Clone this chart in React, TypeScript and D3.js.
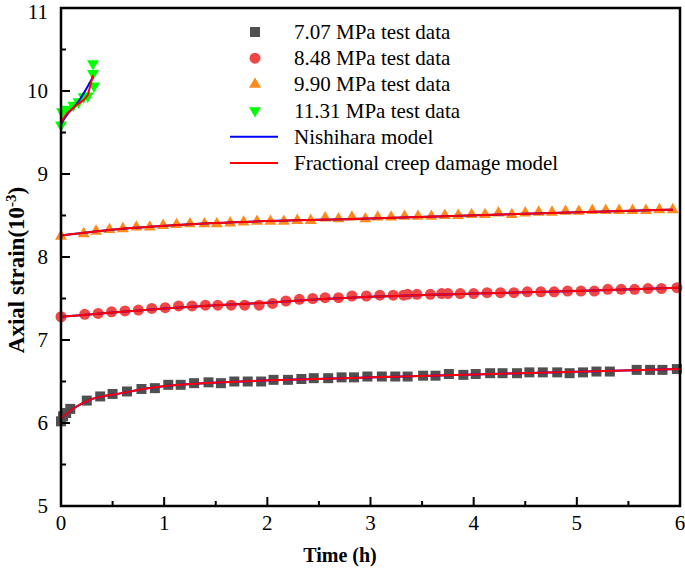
import React from "react";
import * as d3 from "d3";

// test data (time in h, axial strain in 10^-3)
const t707 = [0, 0.02, 0.05, 0.09, 0.25, 0.38, 0.5, 0.64, 0.78, 0.91, 1.04, 1.16, 1.29, 1.43, 1.55, 1.68, 1.81, 1.94, 2.06, 2.2, 2.33, 2.45, 2.59, 2.72, 2.84, 2.97, 3.11, 3.24, 3.36, 3.51, 3.63, 3.76, 3.9, 4.02, 4.16, 4.28, 4.42, 4.54, 4.67, 4.81, 4.93, 5.06, 5.19, 5.32, 5.58, 5.71, 5.83, 5.97];
const v707 = [6.02, 6.08, 6.12, 6.17, 6.27, 6.32, 6.35, 6.38, 6.41, 6.42, 6.46, 6.46, 6.48, 6.49, 6.48, 6.5, 6.5, 6.5, 6.52, 6.52, 6.53, 6.54, 6.54, 6.55, 6.55, 6.56, 6.56, 6.56, 6.56, 6.57, 6.57, 6.59, 6.58, 6.59, 6.6, 6.6, 6.6, 6.61, 6.61, 6.61, 6.6, 6.61, 6.62, 6.62, 6.64, 6.64, 6.64, 6.65];

const t848 = [0, 0.23, 0.36, 0.49, 0.62, 0.75, 0.88, 1.01, 1.14, 1.27, 1.4, 1.52, 1.65, 1.78, 1.92, 2.05, 2.18, 2.31, 2.44, 2.56, 2.69, 2.82, 2.96, 3.09, 3.22, 3.32, 3.36, 3.45, 3.58, 3.69, 3.75, 3.87, 4.0, 4.13, 4.26, 4.39, 4.52, 4.65, 4.78, 4.91, 5.04, 5.17, 5.3, 5.43, 5.56, 5.69, 5.82, 5.97];
const v848 = [7.28, 7.31, 7.32, 7.34, 7.35, 7.36, 7.38, 7.39, 7.41, 7.41, 7.42, 7.42, 7.42, 7.42, 7.42, 7.44, 7.47, 7.49, 7.5, 7.51, 7.51, 7.53, 7.53, 7.54, 7.54, 7.54, 7.55, 7.55, 7.55, 7.56, 7.56, 7.56, 7.56, 7.57, 7.57, 7.57, 7.58, 7.58, 7.58, 7.59, 7.59, 7.59, 7.61, 7.61, 7.61, 7.62, 7.62, 7.63];

const t990 = [0, 0.22, 0.34, 0.47, 0.6, 0.73, 0.86, 0.99, 1.12, 1.25, 1.39, 1.51, 1.64, 1.77, 1.9, 2.03, 2.16, 2.29, 2.42, 2.56, 2.69, 2.82, 2.95, 3.07, 3.2, 3.33, 3.46, 3.59, 3.72, 3.85, 3.98, 4.11, 4.24, 4.37, 4.5, 4.63, 4.76, 4.89, 5.02, 5.15, 5.28, 5.41, 5.54, 5.67, 5.8, 5.93];
const v990 = [8.25, 8.28, 8.31, 8.33, 8.34, 8.36, 8.36, 8.38, 8.39, 8.4, 8.4, 8.4, 8.41, 8.42, 8.43, 8.43, 8.43, 8.44, 8.44, 8.47, 8.46, 8.48, 8.46, 8.48, 8.48, 8.49, 8.49, 8.49, 8.5, 8.5, 8.51, 8.51, 8.53, 8.51, 8.53, 8.54, 8.54, 8.55, 8.55, 8.56, 8.56, 8.56, 8.56, 8.56, 8.57, 8.57];

const t1131 = [0, 0.01, 0.06, 0.12, 0.17, 0.22, 0.26, 0.31, 0.31, 0.32];
const v1131 = [9.59, 9.75, 9.78, 9.83, 9.87, 9.93, 9.94, 10.33, 10.21, 10.06];

// fractional creep damage model (red)
const fitT707 = [0, 0.14, 0.26, 0.59, 0.91, 1.56, 2.2, 3.04, 4.45, 6];
const fitV707 = [6.06, 6.19, 6.27, 6.36, 6.43, 6.49, 6.52, 6.55, 6.6, 6.65];
const fitT848 = [0, 0.5, 1, 1.5, 2, 2.5, 3, 4, 5, 6];
const fitV848 = [7.28, 7.33, 7.38, 7.42, 7.45, 7.49, 7.52, 7.56, 7.59, 7.63];
const fitT990 = [0, 0.6, 1.5, 2.9, 4.5, 5.93];
const fitV990 = [8.26, 8.34, 8.41, 8.46, 8.52, 8.57];
const fitT1131 = [0, 0.05, 0.15, 0.22, 0.26, 0.31];
const fitV1131 = [9.62, 9.72, 9.83, 9.89, 9.95, 10.19];

// Nishihara model (blue), only visible for 11.31 MPa
const nisT1131 = [0, 0.05, 0.15, 0.31];
const nisV1131 = [9.6, 9.7, 9.84, 10.17];

const xTicks = [0, 1, 2, 3, 4, 5, 6];
const yTicks = [5, 6, 7, 8, 9, 10, 11];

const legendLabels = [
  "7.07 MPa test data",
  "8.48 MPa test data",
  "9.90 MPa test data",
  "11.31 MPa test data",
  "Nishihara model",
  "Fractional creep damage model",
];

const W = 685;
const H = 574;
const margin = { top: 8, right: 5, bottom: 68, left: 61 };
const FONT = "'Liberation Serif', 'Times New Roman', serif";

const zip = (ts: number[], vs: number[]) => ts.map((t, i) => [t, vs[i]] as [number, number]);

const GRAY = "#505050";
const RED_DOT = "#f04646";
const ORANGE = "#ff8a1c";
const GREEN = "#00ff00";

export default function App() {
  const x = d3.scaleLinear().domain([0, 6]).range([margin.left, W - margin.right]);
  const y = d3.scaleLinear().domain([5, 11]).range([H - margin.bottom, margin.top]);

  const smooth = d3
    .line<[number, number]>()
    .x((d) => x(d[0]))
    .y((d) => y(d[1]))
    .curve(d3.curveMonotoneX);
  const straight = d3
    .line<[number, number]>()
    .x((d) => x(d[0]))
    .y((d) => y(d[1]));

  const sq = d3.symbol().type(d3.symbolSquare).size(100)() || "";
  const ci = d3.symbol().type(d3.symbolCircle).size(95)() || "";
  const tri = d3.symbol().type(d3.symbolTriangle).size(62)() || "";

  const series = [
    { pts: zip(t707, v707), path: sq, color: GRAY, rot: 0 },
    { pts: zip(t848, v848), path: ci, color: RED_DOT, rot: 0 },
    { pts: zip(t990, v990), path: tri, color: ORANGE, rot: 0 },
    { pts: zip(t1131, v1131), path: tri, color: GREEN, rot: 180 },
  ];

  const fits = [
    smooth(zip(fitT707, fitV707)),
    smooth(zip(fitT848, fitV848)),
    smooth(zip(fitT990, fitV990)),
    straight(zip(fitT1131, fitV1131)),
  ];
  const nish = [
    smooth(zip(fitT707, fitV707)),
    smooth(zip(fitT848, fitV848)),
    smooth(zip(fitT990, fitV990)),
    smooth(zip(nisT1131, nisV1131)),
  ];

  const x0 = margin.left;
  const x1 = W - margin.right;
  const y0 = H - margin.bottom;
  const y1 = margin.top;

  const xMinor = d3.range(0.5, 6, 1);
  const yMinor = d3.range(5.5, 11, 1);

  const legX = 255;
  const legY0 = 32;
  const legStep = 26.2;

  return (
    <>
      <style>{`body{margin:0}`}</style>
      <svg width={W} height={H} style={{ display: "block", background: "#fff" }} fontFamily={FONT}>
        {/* markers */}
        {series.map((s, si) => (
          <g key={si} fill={s.color}>
            {s.pts.map((p, i) => (
              <path
                key={i}
                d={s.path}
                transform={`translate(${x(p[0])},${y(p[1])}) rotate(${s.rot})`}
              />
            ))}
          </g>
        ))}
        {/* model lines */}
        {nish.map((d, i) => (
          <path key={"n" + i} d={d || ""} fill="none" stroke="#0000ff" strokeWidth={2} />
        ))}
        {fits.map((d, i) => (
          <path key={"f" + i} d={d || ""} fill="none" stroke="#ff0000" strokeWidth={2} />
        ))}

        {/* frame */}
        <rect x={x0} y={y1} width={x1 - x0} height={y0 - y1} fill="none" stroke="#000" strokeWidth={2.5} />

        {/* x ticks */}
        {xTicks.map((t) => (
          <g key={"xt" + t}>
            <line x1={x(t)} x2={x(t)} y1={y0} y2={y0 - 9} stroke="#000" strokeWidth={2} />
            <text x={x(t)} y={y0 + 24} textAnchor="middle" fontSize={21}>
              {t}
            </text>
          </g>
        ))}
        {xMinor.map((t) => (
          <line key={"xm" + t} x1={x(t)} x2={x(t)} y1={y0} y2={y0 - 5} stroke="#000" strokeWidth={2} />
        ))}

        {/* y ticks */}
        {yTicks.map((t) => (
          <g key={"yt" + t}>
            <line x1={x0} x2={x0 + 9} y1={y(t)} y2={y(t)} stroke="#000" strokeWidth={2} />
            <text x={x0 - 13} y={Math.max(y(t) + 7, 19)} textAnchor="end" fontSize={21}>
              {t}
            </text>
          </g>
        ))}
        {yMinor.map((t) => (
          <line key={"ym" + t} x1={x0} x2={x0 + 5} y1={y(t)} y2={y(t)} stroke="#000" strokeWidth={2} />
        ))}

        {/* axis titles */}
        <text x={340} y={562} textAnchor="middle" fontSize={20} fontWeight="bold">
          Time (h)
        </text>
        <text
          transform={`translate(24,${270}) rotate(-90)`}
          textAnchor="middle"
          fontSize={23}
          fontWeight="bold"
        >
          Axial strain(10<tspan baselineShift="super" fontSize={15}>-3</tspan>)
        </text>

        {/* legend */}
        {legendLabels.map((label, i) => {
          const ly = legY0 + i * legStep;
          let mark: React.ReactNode = null;
          if (i < 4) {
            const s = series[i];
            mark = (
              <path
                d={s.path}
                fill={s.color}
                transform={`translate(${legX},${ly}) rotate(${s.rot})`}
              />
            );
          } else {
            mark = (
              <line
                x1={230}
                x2={278}
                y1={ly}
                y2={ly}
                stroke={i === 4 ? "#0000ff" : "#ff0000"}
                strokeWidth={2}
              />
            );
          }
          return (
            <g key={"lg" + i}>
              {mark}
              <text x={294} y={ly + 7} fontSize={21}>
                {label}
              </text>
            </g>
          );
        })}
      </svg>
    </>
  );
}
